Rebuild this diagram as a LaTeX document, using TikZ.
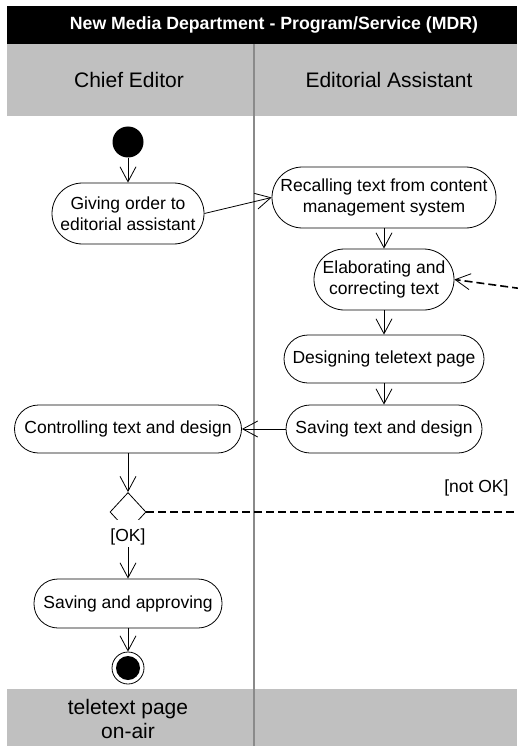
\documentclass[tikz,border=0pt]{standalone}
\usepackage{fontspec}
\setmainfont{Liberation Sans}
\usetikzlibrary{arrows.meta,shapes.geometric}

\definecolor{bandgray}{HTML}{C0C0C0}
\definecolor{divgray}{HTML}{8A8A8A}

\tikzset{
  x=1pt, y=-1pt,
  every node/.style={font=\fontsize{17.5}{21}\selectfont},
  act/.style={draw, line width=0.8pt, rectangle, rounded corners=24pt,
    minimum height=48pt, inner sep=0pt, align=center, fill=white},
  acttall/.style={act, rounded corners=30.5pt, minimum height=61pt},
  flow/.style={line width=0.8pt, -{Straight Barb[length=15pt,width=16pt,line width=0.8pt]}},
  loopback/.style={line width=1.6pt, dash pattern=on 8pt off 4pt},
  lanehead/.style={font=\fontsize{21}{24}\selectfont, align=center},
}

\begin{document}
\begin{tikzpicture}
\useasboundingbox (0,0) rectangle (517,746);

% pool title and lane header bands
\fill[black] (7,6) rectangle (517,44);
\node[text=white, font=\bfseries\fontsize{17.7}{21}\selectfont] (title) at (274,25)
  {New Media Department - Program/Service (MDR)};
\fill[bandgray] (7,44) rectangle (517,116);
\fill[bandgray] (7,689) rectangle (517,746);
\draw[divgray, line width=1.2pt] (254,44) -- (254,746);

\node[lanehead] (laneA) at (129,80) {Chief Editor};
\node[lanehead] (laneB) at (389,80) {Editorial Assistant};
\node[lanehead] (result) at (128,719) {teletext page\\on-air};

% activity nodes
\node[circle, fill=black, minimum size=31pt, inner sep=0pt] (start) at (128,142) {};
\node[acttall, minimum width=152pt] (give) at (128,213.5) {Giving order to\\editorial assistant};
\node[acttall, minimum width=224pt] (recall) at (384,197.5) {Recalling text from content\\management system};
\node[acttall, minimum width=140pt] (elab) at (384,279.5) {Elaborating and\\correcting text};
\node[act, minimum width=200pt] (design) at (384,359) {Designing teletext page};
\node[act, minimum width=196pt] (savetd) at (384,429) {Saving text and design};
\node[act, minimum width=227pt] (control) at (128,429) {Controlling text and design};
\node[diamond, draw, line width=0.8pt, minimum width=36pt, minimum height=39pt,
      inner sep=0pt, fill=white] (dec) at (128,512) {};
\node[act, minimum width=188pt, minimum height=49pt] (saveapp) at (128,603.5) {Saving and approving};
\node[circle, draw, line width=0.8pt, minimum size=32pt, inner sep=0pt, fill=white] (finish) at (128,668) {};
\node[circle, fill=black, minimum size=24pt, inner sep=0pt] (finishdot) at (finish.center) {};

% off-page ends of the rework loop
\coordinate (loopout) at (520,512);
\coordinate (loopin) at (520,288.5);

% control flow
\draw[flow] (start) -- (give);
\draw[flow] (give.east) -- (recall.west);
\draw[flow] (recall) -- (elab);
\draw[flow] (elab) -- (design);
\draw[flow] (design) -- (savetd);
\draw[flow] (savetd) -- (control);
\draw[flow] (control) -- (dec);
\draw[flow] (dec.south) -- (saveapp.north);
\draw[flow] (saveapp) -- (finish);
\draw[loopback] (dec.east) -- (loopout);
\draw[loopback, -{Straight Barb[length=15pt,width=16pt,line width=0.8pt]}] (loopin) -- (elab.east);

% guards
\node[fill=white, inner sep=0pt, text height=21.5pt, text depth=5.5pt, anchor=base] (okguard) at (128,541.5) {[OK]};
\node[anchor=east] (notok) at (512,488) {[not OK]};
\end{tikzpicture}
\end{document}
